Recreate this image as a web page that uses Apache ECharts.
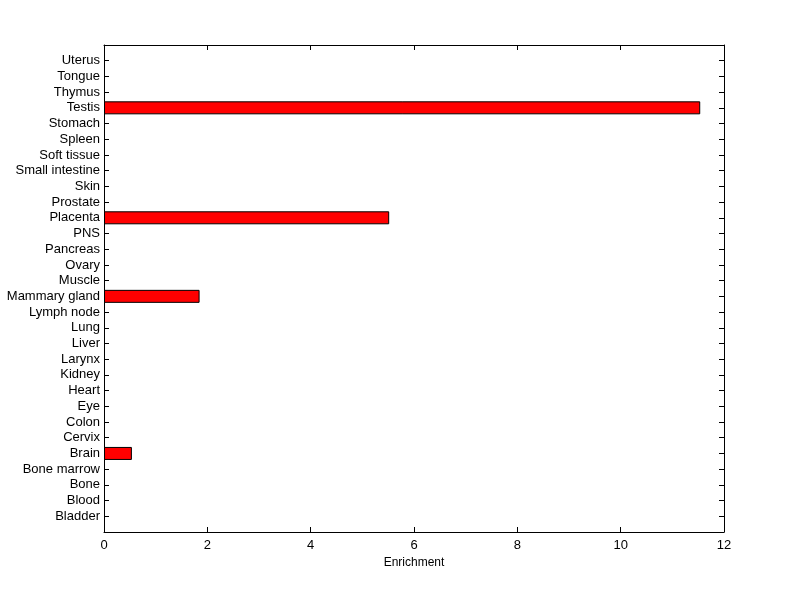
<!DOCTYPE html>
<html>
<head>
<meta charset="utf-8">
<script src="https://cdn.jsdelivr.net/npm/echarts@6/dist/echarts.min.js"></script>
<style>
  html, body { margin: 0; padding: 0; background: #fff; }
  #chart { width: 800px; height: 599px; }
</style>
</head>
<body>
<div id="chart"></div>
<script>
// tissues, bottom to top
const tissues = [
  "Bladder", "Blood", "Bone", "Bone marrow", "Brain", "Cervix", "Colon", "Eye",
  "Heart", "Kidney", "Larynx", "Liver", "Lung", "Lymph node", "Mammary gland",
  "Muscle", "Ovary", "Pancreas", "PNS", "Placenta", "Prostate", "Skin",
  "Small intestine", "Soft tissue", "Spleen", "Stomach", "Testis", "Thymus",
  "Tongue", "Uterus"
];
const enrichment = [
  0, 0, 0, 0, 0.54, 0, 0, 0,
  0, 0, 0, 0, 0, 0, 1.85,
  0, 0, 0, 0, 5.52, 0, 0,
  0, 0, 0, 0, 11.54, 0,
  0, 0
];
const xTicks = [0, 2, 4, 6, 8, 10, 12];

// blank slot at each end so the axis spans 0..31 like the original
const axisCats = [""].concat(tissues, [""]);
const barData = ["-"].concat(enrichment.map(v => (v > 0 ? v : "-")), ["-"]);

const font = "Liberation Sans, Arial, sans-serif";
const chart = echarts.init(document.getElementById("chart"));

const xCommon = {
  type: "value",
  min: xTicks[0],
  max: xTicks[xTicks.length - 1],
  interval: 2,
  splitLine: { show: false },
  axisLine: { show: true, onZero: false, lineStyle: { color: "#000", width: 1 } },
  axisTick: { show: true, inside: true, length: 5, lineStyle: { color: "#000" } },
};
const yCommon = {
  type: "category",
  data: axisCats,
  boundaryGap: false,
  splitLine: { show: false },
  axisLine: { show: true, onZero: false, lineStyle: { color: "#000", width: 1 } },
  axisTick: { show: true, inside: true, length: 5, lineStyle: { color: "#000" } },
};

const option = {
  animation: false,
  backgroundColor: "#fff",
  grid: { left: 104, right: 76, top: 45, bottom: 67 },
  xAxis: [
    Object.assign({}, xCommon, {
      position: "bottom",
      name: "Enrichment",
      nameLocation: "middle",
      nameGap: 25,
      nameTextStyle: { color: "#000", fontSize: 12, fontFamily: font },
      axisLabel: { color: "#000", fontSize: 13, fontFamily: font, margin: 7 },
    }),
    Object.assign({}, xCommon, {
      position: "top",
      axisLabel: { show: false },
    }),
  ],
  yAxis: [
    Object.assign({}, yCommon, {
      position: "left",
      axisLabel: { color: "#000", fontSize: 13, fontFamily: font, margin: 4, interval: 0 },
    }),
    Object.assign({}, yCommon, {
      position: "right",
      axisLabel: { show: false },
    }),
  ],
  series: [
    {
      type: "bar",
      xAxisIndex: 0,
      yAxisIndex: 0,
      data: barData,
      barWidth: 13,
      itemStyle: { color: "#ff0000", borderColor: "#000", borderWidth: 1 },
    },
  ],
};
chart.setOption(option);
</script>
</body>
</html>
